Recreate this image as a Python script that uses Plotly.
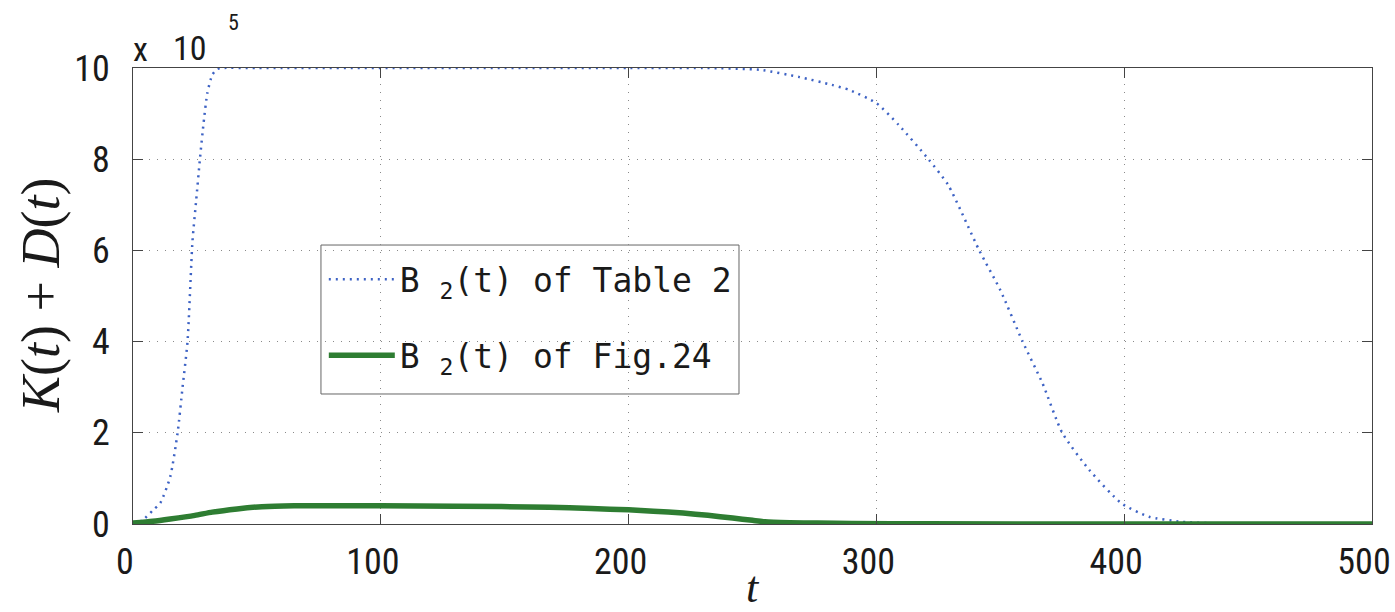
import plotly.graph_objects as go

# ---- data (values in units of 10^5) ----
t_table2 = [0, 4, 8, 11, 15, 18, 20, 22, 24, 25.5, 27, 28.5, 30, 32, 34, 36, 50, 100, 150, 200,
            230, 253, 269, 282, 289, 300, 309, 321, 329, 341.5, 350, 359, 367, 375, 386, 399,
            410, 423, 440, 460, 500]
b2_table2 = [0, 0.09, 0.3, 0.46, 1.03, 2.0, 3.0, 4.0, 6.2, 7.1, 8.0, 8.8, 9.45, 9.85, 9.98, 10, 10, 10, 10, 10,
             10, 9.96, 9.8, 9.63, 9.52, 9.23, 8.75, 8.0, 7.43, 6.0, 5.13, 4.0, 3.09, 2.0, 1.18, 0.45,
             0.16, 0.05, 0.01, 0, 0]

t_fig24 = [0, 8, 15, 25, 32, 42, 52, 65, 86, 100, 130, 168, 185, 200, 210, 222, 232, 242,
           250, 255, 265, 276, 290, 320, 400, 500]
b2_fig24 = [0.02, 0.06, 0.11, 0.19, 0.26, 0.33, 0.38, 0.40, 0.40, 0.40, 0.39, 0.37, 0.34, 0.31,
            0.28, 0.24, 0.19, 0.13, 0.08, 0.05, 0.03, 0.02, 0.01, 0.005, 0, 0]

x_ticks = [0, 100, 200, 300, 400, 500]
x_tick_labels = ["0", "100", "200", "300", "400", "500"]
y_ticks = [0, 2, 4, 6, 8, 10]
y_tick_labels = ["0", "2", "4", "6", "8", "10"]

names = ["B <sub>2</sub>(t) of Table 2", "B <sub>2</sub>(t) of Fig.24"]

narrow = "Liberation Sans Narrow, Roboto Condensed, Arial Narrow, sans-serif"
tick_font = dict(family=narrow, size=36, color="#1a1a1a")
serif = "Liberation Serif, DejaVu Serif, serif"

fig = go.Figure()
fig.add_trace(go.Scatter(x=t_table2, y=b2_table2, mode="lines", name=names[0],
                         legendgroup="a",
                         line=dict(color="#3d62c4", width=2.5, dash="2px,5px",
                                   shape="spline", smoothing=0.6)))
fig.add_trace(go.Scatter(x=t_fig24, y=b2_fig24, mode="lines", name=names[1],
                         legendgroup="b",
                         line=dict(color="#2e7d32", width=5.5, shape="spline", smoothing=0.6)))

axis_common = dict(showline=True, linecolor="#444", linewidth=1, mirror="ticks",
                   ticks="inside", ticklen=10, tickcolor="#444", tickwidth=1,
                   showgrid=True, gridcolor="#8a8a8a", gridwidth=1, griddash="1px,7px",
                   zeroline=False, tickfont=tick_font, automargin=False,
                   ticklabeloverflow="allow")

fig.update_xaxes(range=[0, 500], tickvals=x_ticks, ticktext=x_tick_labels,
                 ticklabelstandoff=6, ticklabelshift=-8, **axis_common)
fig.update_yaxes(range=[0, 10], tickvals=y_ticks, ticktext=y_tick_labels,
                 ticklabelstandoff=15, **axis_common)

# axis titles
fig.add_annotation(text="<i>t</i>", xref="paper", yref="paper", x=0.5, y=0,
                   xanchor="center", yanchor="middle", yshift=-63, height=30, showarrow=False,
                   font=dict(family=serif, size=44, color="#1a1a1a"))
fig.add_annotation(text="<i>K</i>(<i>t</i>) + <i>D</i>(<i>t</i>)", xref="paper", yref="paper",
                   x=0, y=0.5, xanchor="center", yanchor="middle", xshift=-92, textangle=-90,
                   showarrow=False, font=dict(family=serif, size=54, color="#1a1a1a"))

# exponent label
fig.add_annotation(text="x", xref="paper", yref="paper", x=0, y=1,
                   xanchor="left", yanchor="bottom", showarrow=False, yshift=-3, xshift=-2,
                   font=dict(family=narrow, size=34, color="#1a1a1a"))
fig.add_annotation(text="10", xref="paper", yref="paper", x=0, y=1,
                   xanchor="left", yanchor="bottom", showarrow=False, yshift=-2, xshift=38,
                   font=dict(family=narrow, size=34, color="#1a1a1a"))
fig.add_annotation(text="5", xref="paper", yref="paper", x=0, y=1,
                   xanchor="left", yanchor="bottom", showarrow=False, xshift=93, yshift=31,
                   font=dict(family=narrow, size=22, color="#1a1a1a"))

# legend frame
fig.add_shape(type="rect", xref="paper", yref="paper", x0=0.1517, x1=0.4891, y0=0.2851, y1=0.6118,
              layer="between", fillcolor="white", line=dict(color="#666", width=1))

fig.update_layout(
    width=1395, height=612,
    margin=dict(l=133, r=23, t=68, b=88),
    paper_bgcolor="white", plot_bgcolor="white",
    legend=dict(x=0.154, y=0.598, xanchor="left", yanchor="top",
                bgcolor="rgba(0,0,0,0)", borderwidth=0,
                font=dict(family="DejaVu Sans Mono, monospace", size=33, color="#1a1a1a"),
                itemwidth=66, traceorder="grouped", tracegroupgap=30),
    showlegend=True,
)

fig.write_html("out.html", config={"displayModeBar": False},
               post_script="document.body.style.margin='0';")
